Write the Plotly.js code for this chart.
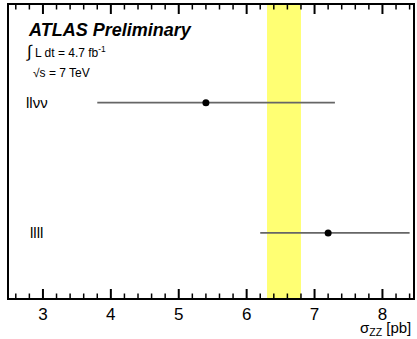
<!DOCTYPE html>
<html><head><meta charset="utf-8">
<script src="https://cdn.plot.ly/plotly-3.0.1.min.js"></script>
<style>html,body{margin:0;padding:0;background:#fff;}#chart{width:417px;height:339px;}</style>
</head><body><div id="chart"></div>
<script>
const channels = ["llll", "llνν"];
const channelPos = [1, 3];
const xsec = [7.2, 5.4];
const errLow = [1.0, 1.6];
const errHigh = [1.2, 1.9];
const theoryBand = [6.3, 6.8];
const xRange = [2.5, 8.45];
const yRange = [0, 4.5];
const majorTicks = [3, 4, 5, 6, 7, 8];

const font = "Liberation Sans, Arial, Helvetica, sans-serif";
const plotH = 339 - 5 - 41;
const pxY = (yRange[1] - yRange[0]) / plotH;

// tick marks, inside at bottom and top, as line traces on the data axes
function tickTrace(vals, lenPx, width) {
  const x = [], y = [];
  vals.forEach(v => {
    x.push(v, v, null, v, v, null);
    y.push(yRange[0], yRange[0] + lenPx * pxY, null, yRange[1], yRange[1] - lenPx * pxY, null);
  });
  return {x, y, type: "scatter", mode: "lines", line: {color: "#000", width}, showlegend: false,
    hoverinfo: "skip", cliponaxis: false};
}
const minorTicks = [];
for (let k = Math.ceil(xRange[0] * 5); k / 5 <= xRange[1]; k++) {
  const v = k / 5;
  if (!majorTicks.some(m => Math.abs(m - v) < 1e-6)) minorTicks.push(v);
}

const trace = {
  x: xsec, y: channelPos, type: "scatter", mode: "markers",
  marker: {color: "#000", size: 7},
  error_x: {type: "data", symmetric: false, array: errHigh, arrayminus: errLow,
    color: "#666", thickness: 1.7, width: 0},
  showlegend: false, hoverinfo: "skip"
};

const layout = {
  width: 417, height: 339,
  margin: {l: 9, r: 4, t: 5, b: 41},
  paper_bgcolor: "#fff", plot_bgcolor: "#fff",
  font: {family: font, color: "#000"},
  xaxis: {range: xRange, tickvals: majorTicks, ticks: "", showline: true, linewidth: 2, linecolor: "#000",
    mirror: true, showgrid: false, zeroline: false, tickfont: {family: font, size: 17, color: "#000"}},
  yaxis: {range: yRange, showticklabels: false, ticks: "", showline: true, linewidth: 2,
    linecolor: "#000", mirror: true, showgrid: false, zeroline: false},
  shapes: [{type: "rect", xref: "x", yref: "paper", x0: theoryBand[0], x1: theoryBand[1], y0: 0, y1: 1,
    fillcolor: "rgba(255,255,0,0.55)", line: {width: 0}, layer: "below"}],
  annotations: [
    ...channels.map((c, i) => ({
      x: [2.78, 2.72][i], y: channelPos[i], xref: "x", yref: "y", text: c, showarrow: false,
      xanchor: "left", yanchor: "middle", font: {family: font, size: 15, color: "#000"}})),
    {x: 0.042, y: 0.915, xref: "paper", yref: "paper", xanchor: "left", yanchor: "middle",
      text: "<b><i>ATLAS Preliminary</i></b>", showarrow: false, font: {family: font, size: 18, color: "#000"}},
    {x: 0.037, y: 0.84, xref: "paper", yref: "paper", xanchor: "left", yanchor: "middle",
      text: "<span style='font-size:17px'>∫</span> L dt = 4.7 fb<sup>-1</sup>", showarrow: false, font: {family: font, size: 12, color: "#000"}},
    {x: 0.054, y: 0.768, xref: "paper", yref: "paper", xanchor: "left", yanchor: "middle",
      text: "√s = 7 TeV", showarrow: false, font: {family: font, size: 12, color: "#000"}},
    {x: 1, y: -0.065, xref: "paper", yref: "paper", xanchor: "right", yanchor: "top",
      text: "σ<sub>ZZ</sub> [pb]", showarrow: false, font: {family: font, size: 15, color: "#000"}}
  ]
};

Plotly.newPlot("chart", [tickTrace(majorTicks, 9, 2), tickTrace(minorTicks, 4.5, 1.5), trace], layout,
  {displayModeBar: false, staticPlot: true});
</script></body></html>
